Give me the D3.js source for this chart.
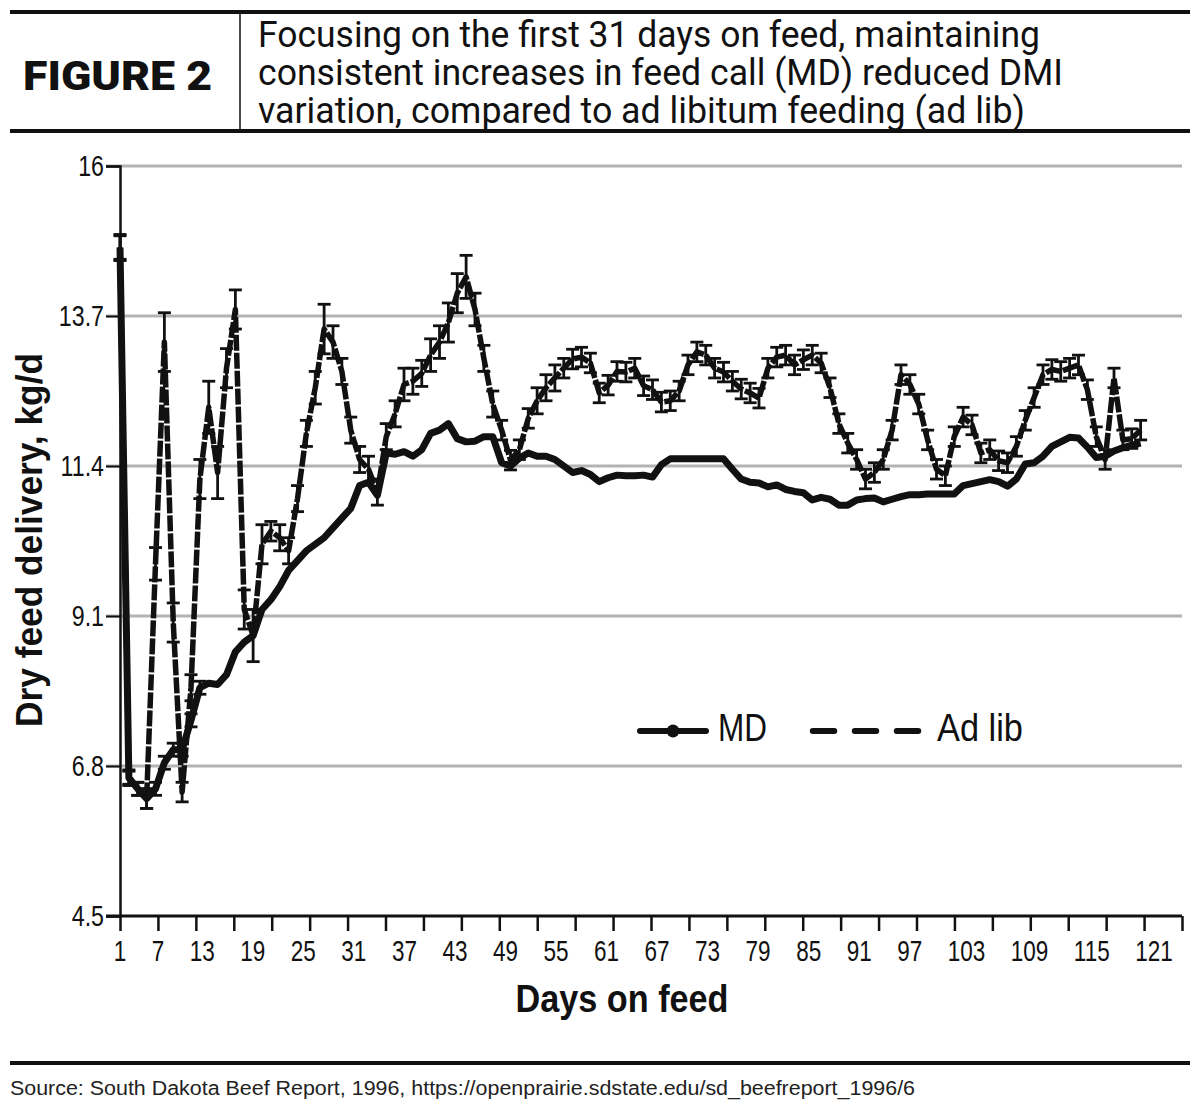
<!DOCTYPE html>
<html><head><meta charset="utf-8">
<script src="https://cdn.jsdelivr.net/npm/d3@7"></script>
<style>body{margin:0;background:#fff} svg{display:block}</style>
</head><body>
<svg id="c" width="1200" height="1115"></svg>
<script>
// ---------------- data ----------------
const adLib = [
 14.75, 6.62, 6.45, 6.3, 9.9, 13.3, 9.0, 6.4, 8.0, 11.2,
 12.3, 11.3, 12.9, 13.8, 9.2, 8.8, 10.2, 10.4, 10.3, 10.1,
 10.9, 11.9, 12.6, 13.5, 13.3, 12.85, 11.95, 11.5, 11.35, 11.0,
 11.85, 12.2, 12.65, 12.7, 12.82, 13.1, 13.3, 13.6, 14.05, 14.3,
 13.8, 13.05, 12.35, 11.95, 11.49, 11.65, 12.13, 12.4, 12.6, 12.75,
 12.9, 13.04, 13.07, 12.98, 12.52, 12.64, 12.85, 12.84, 12.9, 12.63,
 12.57, 12.38, 12.4, 12.55, 12.95, 13.15, 13.1, 12.9, 12.84, 12.7,
 12.58, 12.52, 12.44, 12.9, 13.07, 13.1, 12.95, 13.03, 13.1, 12.98,
 12.6, 12.05, 11.75, 11.5, 11.2, 11.3, 11.5, 11.95, 12.8, 12.65,
 12.35, 11.8, 11.35, 11.25, 11.85, 12.15, 12.03, 11.6, 11.65, 11.48,
 11.45, 11.7, 12.1, 12.45, 12.8, 12.88, 12.85, 12.9, 12.95, 12.57,
 11.85, 11.5, 12.75, 11.8, 11.82, 11.95
];
const adLibSE = [
 0.2, 0.12, 0.1, 0.15, 0.25, 0.45, 0.3, 0.15, 0.2, 0.3,
 0.4, 0.4, 0.3, 0.3, 0.3, 0.4, 0.3, 0.15, 0.2, 0.2,
 0.2, 0.2, 0.25, 0.38, 0.25, 0.2, 0.2, 0.2, 0.2, 0.2,
 0.2, 0.2, 0.25, 0.2, 0.2, 0.25, 0.25, 0.3, 0.3, 0.33,
 0.25, 0.2, 0.2, 0.15, 0.15, 0.15, 0.15, 0.2, 0.2, 0.2,
 0.15, 0.15, 0.15, 0.15, 0.15, 0.15, 0.15, 0.15, 0.15, 0.15,
 0.15, 0.15, 0.15, 0.15, 0.15, 0.15, 0.15, 0.15, 0.15, 0.15,
 0.15, 0.15, 0.15, 0.15, 0.15, 0.15, 0.15, 0.15, 0.15, 0.15,
 0.15, 0.15, 0.15, 0.15, 0.15, 0.15, 0.15, 0.15, 0.15, 0.15,
 0.15, 0.15, 0.15, 0.15, 0.15, 0.15, 0.15, 0.15, 0.15, 0.15,
 0.15, 0.15, 0.15, 0.15, 0.15, 0.15, 0.15, 0.15, 0.15, 0.15,
 0.15, 0.15, 0.15, 0.15, 0.15, 0.15
];
const md = [
 14.75, 6.62, 6.45, 6.3, 6.45, 6.85, 7.05, 7.05, 7.5, 8.0,
 8.07, 8.05, 8.2, 8.55, 8.7, 8.8, 9.2, 9.35, 9.55, 9.8,
 9.95, 10.1, 10.2, 10.3, 10.45, 10.6, 10.75, 11.1, 11.15, 10.95,
 11.6, 11.58, 11.62, 11.55, 11.65, 11.9, 11.95, 12.05, 11.82, 11.77,
 11.78, 11.85, 11.85, 11.45, 11.4, 11.52, 11.6, 11.55, 11.55, 11.5,
 11.4, 11.3, 11.33, 11.27, 11.16, 11.22, 11.26, 11.25, 11.25, 11.26,
 11.23, 11.42, 11.51, 11.51, 11.51, 11.51, 11.51, 11.51, 11.51, 11.35,
 11.2, 11.15, 11.14, 11.08, 11.11, 11.04, 11.01, 10.99, 10.88, 10.92,
 10.89, 10.8, 10.8, 10.88, 10.9, 10.91, 10.85, 10.89, 10.93, 10.96,
 10.96, 10.97, 10.97, 10.97, 10.97, 11.1, 11.13, 11.16, 11.19, 11.16,
 11.09, 11.2, 11.43, 11.45, 11.55, 11.7, 11.77, 11.84, 11.83, 11.69,
 11.53, 11.55, 11.63, 11.68, 11.72, 11.75
];
const mdSE = [0.18, 0.1, 0.1, 0.15, 0.1, 0.1, 0.1, 0.1, 0.1, 0.1];
const yTicks = [4.5, 6.8, 9.1, 11.4, 13.7, 16];
const xLabels = ["1","7","13","19","25","31","37","43","49","55","61","67","73","79","85","91","97","103","109","115","121"];
const seriesNames = ["MD", "Ad lib"];
const figLabel = "FIGURE 2";
const titleLines = [
 "Focusing on the first 31 days on feed, maintaining",
 "consistent increases in feed call (MD) reduced DMI",
 "variation, compared to ad libitum feeding (ad lib)"
];
const yTitle = "Dry feed delivery, kg/d";
const xTitle = "Days on feed";
const source = "Source: South Dakota Beef Report, 1996, https://openprairie.sdstate.edu/sd_beefreport_1996/6";

// ---------------- drawing ----------------
const svg = d3.select("#c");
const FONT = "'Liberation Sans', Arial, sans-serif";

function fit(sel, len) { // force a text to a given advance width
  sel.attr("textLength", len).attr("lengthAdjust", "spacingAndGlyphs");
  return sel;
}

// header
svg.append("line").attr("x1", 10).attr("x2", 1190).attr("y1", 12).attr("y2", 12)
  .attr("stroke", "#111").attr("stroke-width", 4);
svg.append("line").attr("x1", 10).attr("x2", 1190).attr("y1", 131).attr("y2", 131)
  .attr("stroke", "#111").attr("stroke-width", 4);
svg.append("line").attr("x1", 240).attr("x2", 240).attr("y1", 14).attr("y2", 129)
  .attr("stroke", "#111").attr("stroke-width", 1.5);
fit(svg.append("text").attr("x", 23).attr("y", 90)
  .attr("font-family", "Roboto, 'Liberation Sans', sans-serif").attr("font-weight", 900)
  .attr("font-size", 40).attr("fill", "#111").text(figLabel), 189);
const titleW = [782, 805, 767];
titleLines.forEach((t, i) => {
  fit(svg.append("text").attr("x", 258).attr("y", 47 + i * 38)
    .attr("font-family", "Roboto, 'Liberation Sans', sans-serif")
    .attr("font-size", 36).attr("fill", "#111").text(t), titleW[i]);
});

// scales
const x = d3.scaleLinear().domain([1, 121]).range([120, 1185]);
const y = d3.scaleLinear().domain([4.5, 16]).range([916, 166]);
const tickPos = d3.scaleLinear().domain([0, 28]).range([120, 1182]);

// gridlines
svg.append("g").selectAll("line").data(yTicks.filter(v => v > 4.5)).join("line")
  .attr("x1", 106).attr("x2", 1182)
  .attr("y1", d => y(d)).attr("y2", d => y(d))
  .attr("stroke", "#b3b3b3").attr("stroke-width", 3);

// y axis
const yAxis = svg.append("g").attr("transform", "translate(120,0)")
  .call(d3.axisLeft(y).tickValues(yTicks).tickSize(14).tickFormat(""));
yAxis.select(".domain").attr("stroke", "#111").attr("stroke-width", 2.5);
yAxis.selectAll(".tick line").attr("stroke", "#111").attr("stroke-width", 2);
svg.append("g").selectAll("text").data(yTicks).join("text")
  .attr("y", d => y(d)).attr("dy", "0.36em")
  .attr("font-family", FONT).attr("font-size", 29).attr("fill", "#111")
  .text(d => d)
  .each(function () {
    const w = this.getComputedTextLength() * 0.8;
    d3.select(this).attr("textLength", w).attr("lengthAdjust", "spacingAndGlyphs")
      .attr("x", 104 - w);
  });

// x axis
const xAxis = svg.append("g").attr("transform", "translate(0,916)")
  .call(d3.axisBottom(tickPos).tickValues(d3.range(29)).tickSize(15).tickSizeOuter(0).tickFormat(""));
xAxis.select(".domain").attr("stroke", "#111").attr("stroke-width", 3)
  .attr("d", "M106,0H1182");
xAxis.selectAll(".tick line").attr("stroke", "#111").attr("stroke-width", 2.5);

// x tick labels, set as a typed run with even gaps
const xl = svg.append("g");
let cursor = null;
xl.selectAll("text").data(xLabels).join("text")
  .attr("y", 961).attr("font-family", FONT).attr("font-size", 30).attr("fill", "#111")
  .text(d => d)
  .each(function (d, i) {
    const w = this.getComputedTextLength() * 0.75;
    d3.select(this).attr("textLength", w).attr("lengthAdjust", "spacingAndGlyphs");
    if (i === 0) cursor = x(1) - w / 2;
    d3.select(this).attr("x", cursor);
    cursor += w + 25.5;
  });

// axis titles
const yt = svg.append("text").attr("font-family", FONT).attr("font-weight", "bold")
  .attr("font-size", 37).attr("fill", "#111").text(yTitle);
{
  const L = 374;
  fit(yt, L).attr("transform", `translate(42,${540 + L / 2}) rotate(-90)`);
}
const xt = svg.append("text").attr("font-family", FONT).attr("font-weight", "bold")
  .attr("font-size", 39).attr("fill", "#111").text(xTitle);
fit(xt, 213).attr("x", 622 - 213 / 2).attr("y", 1012);

// series
const line = d3.line().x((d, i) => x(i + 1)).y(d => y(d)).curve(d3.curveLinear);
const plot = svg.append("g");

function errorBars(vals, se, w) {
  const g = plot.append("g").attr("stroke", "#111").attr("stroke-width", w);
  const pts = se.map((e, i) => ({ i, v: vals[i], e })).filter(p => p.e > 0);
  g.selectAll("line.v").data(pts).join("line").attr("class", "v")
    .attr("x1", p => x(p.i + 1)).attr("x2", p => x(p.i + 1))
    .attr("y1", p => y(p.v - p.e)).attr("y2", p => y(p.v + p.e));
  g.selectAll("line.t").data(pts).join("line").attr("class", "t")
    .attr("x1", p => x(p.i + 1) - 6.5).attr("x2", p => x(p.i + 1) + 6.5)
    .attr("y1", p => y(p.v + p.e)).attr("y2", p => y(p.v + p.e));
  g.selectAll("line.b").data(pts).join("line").attr("class", "b")
    .attr("x1", p => x(p.i + 1) - 6.5).attr("x2", p => x(p.i + 1) + 6.5)
    .attr("y1", p => y(p.v - p.e)).attr("y2", p => y(p.v - p.e));
}

plot.append("path").datum(adLib).attr("d", line)
  .attr("fill", "none").attr("stroke", "#111").attr("stroke-width", 5.5)
  .attr("stroke-linejoin", "round").attr("stroke-dasharray", "16,2");
errorBars(adLib, adLibSE, 2.8);
plot.append("path").datum(md).attr("d", line)
  .attr("fill", "none").attr("stroke", "#111").attr("stroke-width", 7)
  .attr("stroke-linejoin", "round");
errorBars(md, mdSE, 2.8);

// legend
const lg = svg.append("g");
lg.append("line").attr("x1", 640).attr("x2", 706).attr("y1", 731).attr("y2", 731)
  .attr("stroke", "#111").attr("stroke-width", 6).attr("stroke-linecap", "round");
lg.append("circle").attr("cx", 673).attr("cy", 731).attr("r", 6.5).attr("fill", "#111");
lg.append("line").attr("x1", 812.75).attr("x2", 919.25).attr("y1", 731).attr("y2", 731)
  .attr("stroke", "#111").attr("stroke-width", 6).attr("stroke-linecap", "round")
  .attr("stroke-dasharray", "21.5,20.5");
fit(lg.append("text").attr("x", 718).attr("y", 741).attr("font-family", FONT)
  .attr("font-size", 38).attr("fill", "#111").text(seriesNames[0]), 49);
fit(lg.append("text").attr("x", 937).attr("y", 741).attr("font-family", FONT)
  .attr("font-size", 38).attr("fill", "#111").text(seriesNames[1]), 86);

// footer
svg.append("line").attr("x1", 10).attr("x2", 1190).attr("y1", 1063).attr("y2", 1063)
  .attr("stroke", "#111").attr("stroke-width", 4);
fit(svg.append("text").attr("x", 10).attr("y", 1095).attr("font-family", FONT)
  .attr("font-size", 20).attr("fill", "#222").text(source), 905);
</script>
</body></html>
